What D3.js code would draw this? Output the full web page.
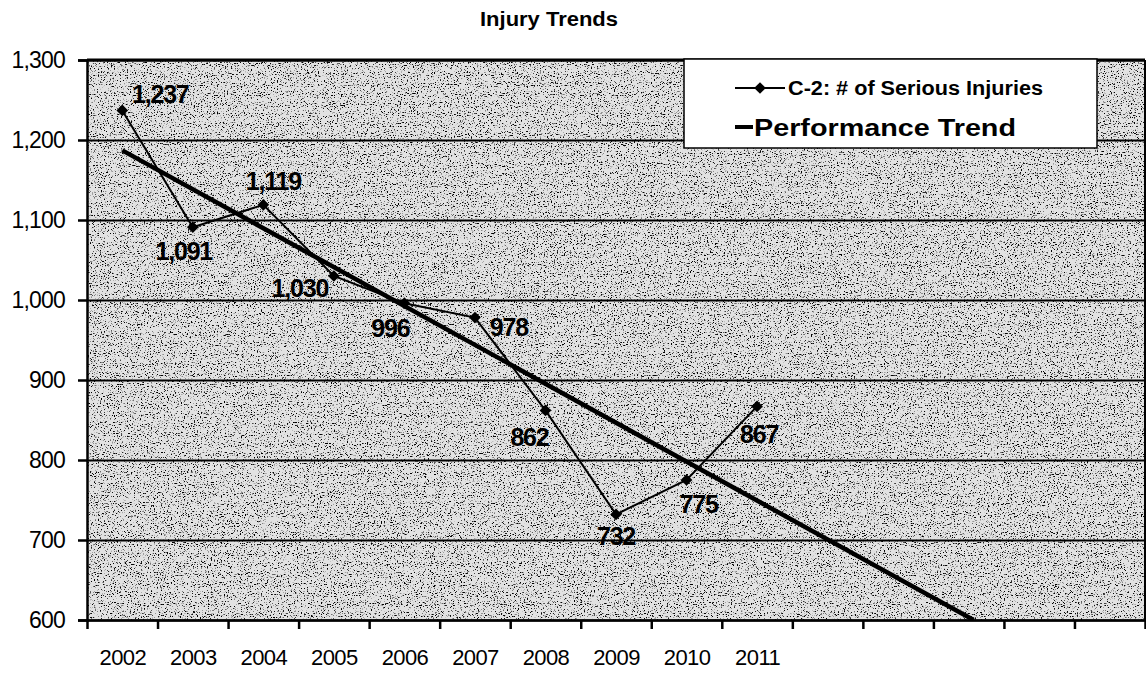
<!DOCTYPE html>
<html>
<head>
<meta charset="utf-8">
<script src="https://cdn.jsdelivr.net/npm/d3@7"></script>
<style>
  html, body { margin: 0; padding: 0; background: #fff; }
  svg { display: block; font-family: "Liberation Sans", Arial, sans-serif; }
  .grid line { stroke: #000; stroke-width: 2; }
  .grid path { display: none; }
  .axis path, .axis line { stroke: #000; stroke-width: 2.5; }
  .axis text { fill: #000; font-size: 23px; letter-spacing: -0.8px; }
  .lbl text { fill: #000; font-size: 22px; letter-spacing: -0.6px; }
  .lbl path, .lbl line { display: none; }
  .point-label { font-size: 25px; font-weight: bold; fill: #000; letter-spacing: -1.2px; }
</style>
</head>
<body>
<svg id="chart"></svg>
<script>
// values
const years = ["2002", "2003", "2004", "2005", "2006", "2007", "2008", "2009", "2010", "2011"];
const injuries = [1237, 1091, 1119, 1030, 996, 978, 862, 732, 775, 867];
const slotCount = 15; // excel axis keeps going with blank categories
const yTicks = [600, 700, 800, 900, 1000, 1100, 1200, 1300];

// trend line: start at first category, runs off the bottom of the plot
const trendSlots = [0, 12.07];
const trendValues = [1187, 600];

// label placement (dx, dy from the marker), like excel's hand placed labels
const labelOffsets = [
    [38, -7], [-9, 33], [10, -15], [-34, 21], [-14, 34],
    [34, 18], [-16, 36], [0, 31], [12, 33], [2, 37]
];

let width = 1146;
let height = 675;
let plot = { left: 87, right: 1145, top: 60, bottom: 620 };

let svg = d3.select("#chart")
    .attr("width", width)
    .attr("height", height);

// grainy scanned background
let defs = svg.append("defs");
let filt = defs.append("filter")
    .attr("id", "speckle")
    .attr("x", 0).attr("y", 0).attr("width", "100%").attr("height", "100%");
filt.append("feTurbulence")
    .attr("type", "fractalNoise")
    .attr("baseFrequency", "0.7 0.9")
    .attr("numOctaves", 4)
    .attr("seed", 5);
filt.append("feColorMatrix")
    .attr("type", "matrix")
    .attr("values", "0 0 0 0 0  0 0 0 0 0  0 0 0 0 0  7 0 0 0 -4.1");

defs.append("clipPath").attr("id", "plotClip")
    .append("rect")
    .attr("x", plot.left).attr("y", plot.top)
    .attr("width", plot.right - plot.left).attr("height", plot.bottom - plot.top);

// scales
let x = d3.scaleLinear()
    .domain([0, slotCount])
    .range([plot.left, plot.right]);

let y = d3.scaleLinear()
    .domain([600, 1300])
    .range([plot.bottom, plot.top]);

let cx = i => x(i + 0.5);

// plot background
svg.append("rect")
    .attr("x", plot.left).attr("y", plot.top)
    .attr("width", plot.right - plot.left).attr("height", plot.bottom - plot.top)
    .attr("fill", "#e2e2e2");
svg.append("rect")
    .attr("x", plot.left).attr("y", plot.top)
    .attr("width", plot.right - plot.left).attr("height", plot.bottom - plot.top)
    .attr("filter", "url(#speckle)");

// horizontal gridlines
svg.append("g")
    .attr("class", "grid")
    .attr("transform", "translate(" + plot.left + ",0)")
    .call(d3.axisLeft(y).tickValues(yTicks).tickSize(-(plot.right - plot.left)).tickFormat(""));

// top & right border
svg.append("line")
    .attr("x1", plot.left).attr("x2", plot.right)
    .attr("y1", plot.top).attr("y2", plot.top)
    .attr("stroke", "#000").attr("stroke-width", 3);
svg.append("line")
    .attr("x1", plot.right).attr("x2", plot.right)
    .attr("y1", plot.top).attr("y2", plot.bottom)
    .attr("stroke", "#000").attr("stroke-width", 2);

// y axis
svg.append("g")
    .attr("class", "axis")
    .attr("transform", "translate(" + plot.left + ",0)")
    .call(d3.axisLeft(y).tickValues(yTicks).tickSize(9).tickPadding(13).tickFormat(d3.format(",")));

// x axis: ticks between categories
svg.append("g")
    .attr("class", "axis")
    .attr("transform", "translate(0," + plot.bottom + ")")
    .call(d3.axisBottom(x).tickValues(d3.range(0, slotCount + 1)).tickSize(9).tickSizeOuter(0).tickFormat(""));

// x labels centred in each category
svg.append("g")
    .attr("class", "lbl")
    .attr("transform", "translate(0," + plot.bottom + ")")
    .call(d3.axisBottom(x)
        .tickValues(d3.range(0, years.length).map(i => i + 0.5))
        .tickSize(0).tickPadding(29)
        .tickFormat(d => years[Math.floor(d)]));

// trend line
let trendLine = d3.line()
    .x((d, i) => x(trendSlots[i] + 0.5))
    .y(d => y(d));

svg.append("path")
    .datum(trendValues)
    .attr("clip-path", "url(#plotClip)")
    .attr("d", trendLine)
    .attr("fill", "none")
    .attr("stroke", "#000")
    .attr("stroke-width", 4.5);

// data series
let dataLine = d3.line()
    .x((d, i) => cx(i))
    .y(d => y(d));

svg.append("path")
    .datum(injuries)
    .attr("d", dataLine)
    .attr("fill", "none")
    .attr("stroke", "#000")
    .attr("stroke-width", 2);

let diamond = d3.symbol().type(d3.symbolSquare).size(68);

svg.selectAll(".marker")
    .data(injuries)
    .enter()
    .append("path")
    .attr("class", "marker")
    .attr("d", diamond)
    .attr("transform", (d, i) => "translate(" + cx(i) + "," + y(d) + ") rotate(45)")
    .attr("fill", "#000");

svg.selectAll(".point-label")
    .data(injuries)
    .enter()
    .append("text")
    .attr("class", "point-label")
    .attr("text-anchor", "middle")
    .attr("x", (d, i) => cx(i) + labelOffsets[i][0])
    .attr("y", (d, i) => y(d) + labelOffsets[i][1])
    .text(d => d3.format(",")(d));

// legend
let legend = svg.append("g").attr("class", "legend");
legend.append("rect")
    .attr("x", 684).attr("y", 59)
    .attr("width", 413).attr("height", 89)
    .attr("fill", "#fff")
    .attr("stroke", "#000")
    .attr("stroke-width", 1.5);

legend.append("line")
    .attr("x1", 735).attr("x2", 785)
    .attr("y1", 88).attr("y2", 88)
    .attr("stroke", "#000").attr("stroke-width", 2);
legend.append("path")
    .attr("d", diamond)
    .attr("transform", "translate(760,88) rotate(45)")
    .attr("fill", "#000");
legend.append("text")
    .attr("x", 788).attr("y", 95)
    .attr("font-size", 20).attr("font-weight", "bold")
    .attr("textLength", 255).attr("lengthAdjust", "spacingAndGlyphs")
    .text("C-2: # of Serious Injuries");

legend.append("line")
    .attr("x1", 735).attr("x2", 753)
    .attr("y1", 127).attr("y2", 127)
    .attr("stroke", "#000").attr("stroke-width", 4);
legend.append("text")
    .attr("x", 754).attr("y", 136)
    .attr("font-size", 23).attr("font-weight", "bold")
    .attr("textLength", 262).attr("lengthAdjust", "spacingAndGlyphs")
    .text("Performance Trend");

// title
svg.append("text")
    .attr("x", 549).attr("y", 26)
    .attr("text-anchor", "middle")
    .attr("font-size", 20).attr("font-weight", "bold")
    .attr("textLength", 138).attr("lengthAdjust", "spacingAndGlyphs")
    .text("Injury Trends");
</script>
</body>
</html>
